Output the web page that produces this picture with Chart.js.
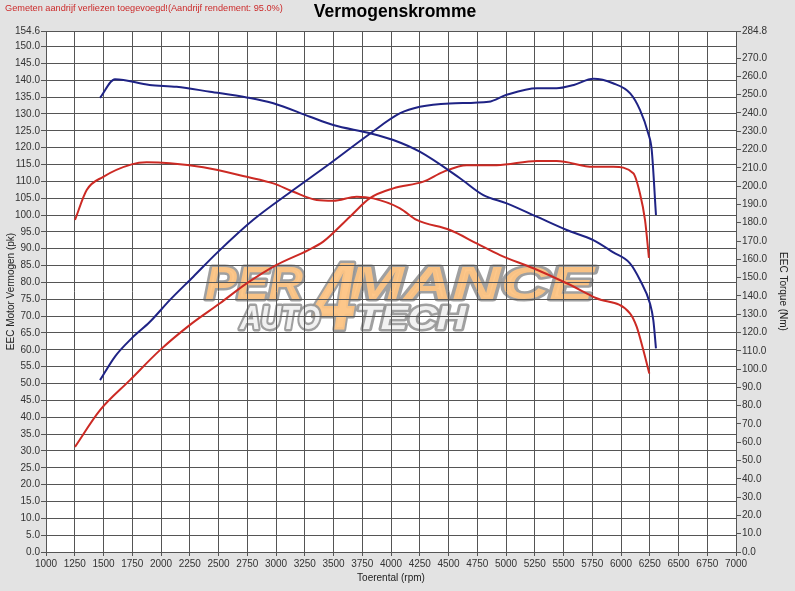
<!DOCTYPE html>
<html>
<head>
<meta charset="utf-8">
<script src="https://cdn.jsdelivr.net/npm/chart.js@4/dist/chart.umd.min.js"></script>
<style>
  body { margin: 0; background: #e3e3e3; }
  canvas { display: block; }
</style>
</head>
<body>
<canvas id="dyno" width="795" height="591"></canvas>
<script>
// tick values
const rpmTicks = [1000, 1250, 1500, 1750, 2000, 2250, 2500, 2750, 3000, 3250, 3500, 3750, 4000,
                  4250, 4500, 4750, 5000, 5250, 5500, 5750, 6000, 6250, 6500, 6750, 7000];
const pkTicks = [0, 5, 10, 15, 20, 25, 30, 35, 40, 45, 50, 55, 60, 65, 70, 75, 80, 85, 90, 95,
                 100, 105, 110, 115, 120, 125, 130, 135, 140, 145, 150, 154.6];
const nmTicks = [0, 10, 20, 30, 40, 50, 60, 70, 80, 90, 100, 110, 120, 130, 140, 150, 160, 170,
                 180, 190, 200, 210, 220, 230, 240, 250, 260, 270, 284.8];

// blue run: power (pk) and torque (Nm)
const bluePowerRpm = [1470, 1600, 1745, 1904, 2078, 2281, 2500, 2800, 3150, 3470, 3820, 4080, 4250,
                      4510, 4850, 5000, 5270, 5440, 5590, 5760, 5930, 6080, 6165, 6237, 6267, 6304];
const bluePower = [51.0, 58.0, 63.4, 68.3, 74.8, 81.7, 89.2, 98.5, 107.4, 115.3, 124.2, 130.2, 132.1,
                   133.1, 133.6, 135.6, 137.6, 137.6, 138.6, 140.4, 139.1, 136.1, 131.2, 124.2, 119.3, 100.0];
const blueTorqueRpm = [1470, 1600, 1900, 2136, 2426, 2745, 2977, 3296, 3498, 3817, 4020, 4250, 4600,
                       4803, 5006, 5267, 5528, 5759, 5933, 6078, 6165, 6252, 6281, 6304];
const blueTorque = [248.3, 258.4, 255.3, 254.3, 251.6, 248.5, 245.3, 237.9, 233.4, 228.9, 225.2, 218.8, 204.3,
                    195.1, 190.6, 183.3, 176.0, 170.5, 163.8, 157.8, 148.7, 135.9, 126.8, 111.3];

// red run: power (pk) and torque (Nm)
const redPowerRpm = [1252, 1470, 1730, 1991, 2252, 2513, 2745, 3006, 3281, 3411, 3643, 3817, 4020,
                     4281, 4455, 4658, 4919, 5267, 5441, 5759, 5933, 6107, 6165, 6209, 6243];
const redPower = [31.2, 42.1, 51.0, 59.9, 67.4, 73.8, 79.7, 85.2, 89.6, 92.1, 99.5, 105.0, 107.9,
                  109.9, 112.8, 114.8, 114.8, 116.0, 116.0, 114.3, 114.3, 112.4, 106.4, 98.5, 87.3];
const redTorqueRpm = [1252, 1354, 1498, 1745, 1875, 2078, 2368, 2745, 2977, 3151, 3354, 3498, 3701,
                      3846, 4078, 4223, 4513, 4745, 4948, 5238, 5528, 5788, 6078, 6136, 6194, 6246];
const redTorque = [181.5, 197.9, 205.1, 211.9, 213.0, 212.5, 210.3, 205.1, 201.5, 196.9, 192.4, 192.0, 194.2,
                   193.3, 187.9, 181.5, 176.0, 168.7, 162.3, 155.1, 146.9, 138.7, 130.5, 123.2, 110.4, 97.6];

const BLUE = '#1f2385';
const RED = '#cc2a24';
const FONT = '"Liberation Sans", Arial, sans-serif';

const pts = (xs, ys) => xs.map((x, i) => ({ x: x, y: ys[i] }));

function line(label, xs, ys, color, axis) {
    return {
        label: label,
        data: pts(xs, ys),
        yAxisID: axis,
        borderColor: color,
        borderWidth: 2,
        pointRadius: 0,
        cubicInterpolationMode: 'monotone',
        fill: false,
    };
}

// fit text into a given width by stretching it horizontally
function fitText(ctx, text, x, y, w) {
    const m = ctx.measureText(text).width;
    ctx.save();
    ctx.translate(x, y);
    ctx.scale(w / m, 1);
    ctx.strokeText(text, 0, 0);
    ctx.fillText(text, 0, 0);
    ctx.restore();
}

const backdrop = {
    id: 'backdrop',
    beforeDraw(chart) {
        const { ctx, chartArea: a, width, height } = chart;
        ctx.save();
        ctx.fillStyle = '#e3e3e3';
        ctx.fillRect(0, 0, width, height);
        ctx.fillStyle = '#ffffff';
        ctx.fillRect(a.left, a.top, a.right - a.left, a.bottom - a.top);

        // watermark logo
        ctx.lineJoin = 'round';
        ctx.lineWidth = 5;
        ctx.strokeStyle = 'rgba(150,150,150,0.9)';
        ctx.textBaseline = 'alphabetic';
        ctx.textAlign = 'left';
        ctx.fillStyle = 'rgba(253,196,132,0.95)';
        ctx.font = 'italic bold 46px ' + FONT;
        fitText(ctx, 'PER', 205, 299, 98);
        fitText(ctx, 'MANCE', 348, 299, 246);
        ctx.font = 'italic bold 96px ' + FONT;
        fitText(ctx, '4', 314, 330, 42);
        ctx.fillStyle = 'rgba(245,245,245,0.95)';
        ctx.font = 'italic bold 34px ' + FONT;
        fitText(ctx, 'AUTO', 240, 329, 80);
        fitText(ctx, 'TECH', 356, 329, 110);

        // headings
        ctx.textBaseline = 'middle';
        ctx.textAlign = 'center';
        ctx.fillStyle = '#000';
        ctx.font = 'bold 17.5px ' + FONT;
        ctx.fillText('Vermogenskromme', 395, 12);
        ctx.textAlign = 'left';
        ctx.fillStyle = '#cc2a2a';
        ctx.font = '9.2px ' + FONT;
        ctx.fillText('Gemeten aandrijf verliezen toegevoegd!(Aandrijf rendement: 95.0%)', 5, 8);
        ctx.restore();
    }
};

const tickFont = { family: FONT, size: 10 };
const fixTicks = (arr) => (scale) => { scale.ticks = arr.map(v => ({ value: v })); };

new Chart(document.getElementById('dyno'), {
    type: 'line',
    data: {
        datasets: [
            line('Vermogen 1', bluePowerRpm, bluePower, BLUE, 'y'),
            line('Koppel 1', blueTorqueRpm, blueTorque, BLUE, 'y2'),
            line('Vermogen 2', redPowerRpm, redPower, RED, 'y'),
            line('Koppel 2', redTorqueRpm, redTorque, RED, 'y2'),
        ]
    },
    options: {
        responsive: false,
        animation: false,
        layout: { padding: { top: 31, left: 0, right: 0, bottom: 0 } },
        plugins: {
            legend: { display: false },
            tooltip: { enabled: false },
        },
        scales: {
            x: {
                type: 'linear',
                min: 1000,
                max: 7000,
                afterBuildTicks: fixTicks(rpmTicks),
                afterFit: (s) => { s.height = 39; },
                grid: { color: '#555555', tickLength: 4 },
                border: { color: '#555555' },
                ticks: { font: tickFont, color: '#333', padding: 2, maxRotation: 0, autoSkip: false,
                         callback: (v) => String(v) },
                title: { display: true, text: 'Toerental (rpm)', color: '#222',
                         font: { family: FONT, size: 10 }, padding: { top: 0, bottom: 7 } },
            },
            y: {
                position: 'left',
                min: 0,
                max: 154.6,
                afterBuildTicks: fixTicks(pkTicks),
                afterFit: (s) => { s.width = 46; },
                grid: { color: '#555555', tickLength: 5 },
                border: { color: '#555555' },
                ticks: { font: tickFont, color: '#333', padding: 1, autoSkip: false,
                         callback: (v) => v.toFixed(1) },
                title: { display: true, text: 'EEC Motor Vermogen (pk)', color: '#222',
                         font: { family: FONT, size: 10 }, padding: { top: 5, bottom: 0 } },
            },
            y2: {
                position: 'right',
                min: 0,
                max: 284.8,
                afterBuildTicks: fixTicks(nmTicks),
                afterFit: (s) => { s.width = 59; },
                grid: { drawOnChartArea: false, color: '#555555', tickLength: 5 },
                border: { color: '#555555' },
                ticks: { font: tickFont, color: '#333', padding: 1, autoSkip: false,
                         callback: (v) => v.toFixed(1) },
                title: { display: true, text: 'EEC Torque (Nm)', color: '#222',
                         font: { family: FONT, size: 10 }, padding: { top: 6, bottom: 0 } },
            },
        }
    },
    plugins: [backdrop]
});
</script>
</body>
</html>
